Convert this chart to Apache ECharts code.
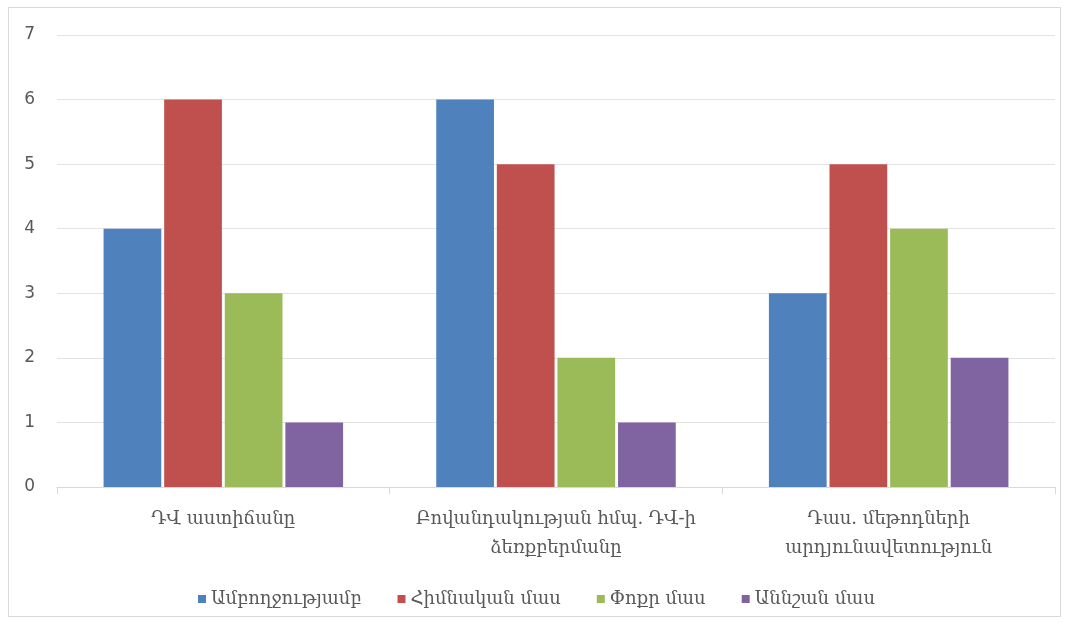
<!DOCTYPE html>
<html><head><meta charset="utf-8">
<script src="https://cdn.jsdelivr.net/npm/echarts@6/dist/echarts.min.js"></script>
<style>
html,body{margin:0;padding:0;background:#fff;}
#frame{position:absolute;left:8px;top:7px;width:1053px;height:610px;border:1px solid #d9d9d9;box-sizing:border-box;}
#chart{position:absolute;left:0;top:0;width:1073px;height:627px;}
</style></head>
<body>
<div id="frame"></div>
<div id="chart"></div>
<script>
var categories = ['ԴՎ աստիճանը', 'Բովանդակության հմպ. ԴՎ-ի\nձեռքբերմանը', 'Դաս. մեթոդների\nարդյունավետություն'];
var seriesNames = ['Ամբողջությամբ', 'Հիմնական մաս', 'Փոքր մաս', 'Աննշան մաս'];
var fullValues = [4, 6, 3];
var mainValues = [6, 5, 5];
var smallValues = [3, 2, 4];
var minorValues = [1, 1, 2];
var colors = ['#4F81BD', '#C0504D', '#9BBB59', '#8064A2'];
var font = 'DejaVu Serif';
var chart = echarts.init(document.getElementById('chart'));
var data = [fullValues, mainValues, smallValues, minorValues];
chart.setOption({
  animation: false,
  color: colors,
  grid: {left: 57, right: 18, top: 35, bottom: 140},
  legend: {
    bottom: 14, left: 'center', itemWidth: 8, itemHeight: 8, itemGap: 36,
    icon: 'rect',
    textStyle: {fontFamily: font, fontSize: 18, color: '#595959'},
    data: seriesNames
  },
  xAxis: {
    type: 'category', data: categories,
    axisLine: {lineStyle: {color: '#d9d9d9'}},
    axisTick: {show: true, length: 7, lineStyle: {color: '#d9d9d9'}},
    axisLabel: {fontFamily: font, fontSize: 18, color: '#595959', margin: 18, lineHeight: 29, interval: 0}
  },
  yAxis: {
    type: 'value', min: 0, max: 7, interval: 1,
    axisLine: {show: false}, axisTick: {show: false},
    splitLine: {lineStyle: {color: '#e3e3e3'}},
    axisLabel: {fontFamily: 'DejaVu Sans', fontSize: 17, color: '#595959', margin: 22}
  },
  series: seriesNames.map(function(n, i){
    return {name: n, type: 'bar', data: data[i], barGap: '5%', barCategoryGap: '28%'};
  })
});
</script>
</body></html>
